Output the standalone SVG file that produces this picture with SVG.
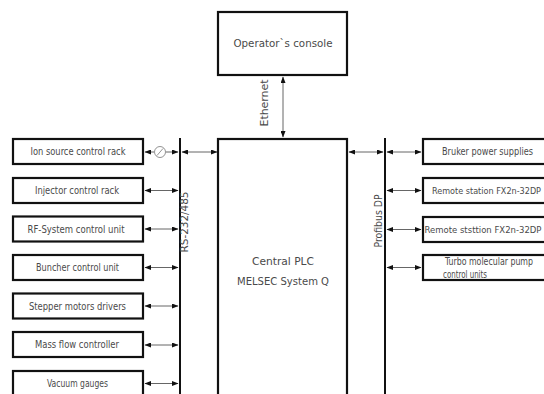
<svg xmlns="http://www.w3.org/2000/svg" width="544" height="394" viewBox="0 0 544 394">
<style>
.box{fill:#fff;stroke:#111;stroke-width:2.2}
.bus{stroke:#111;stroke-width:2}
.conn{stroke:#555;stroke-width:0.9;fill:none}
text{font-family:"DejaVu Sans Condensed","DejaVu Sans",sans-serif;font-size:9.8px;fill:#4a4a4a}
.c{text-anchor:middle}
.s{font-size:8.4px}
</style>
<defs>
<marker id="ah" markerUnits="userSpaceOnUse" markerWidth="7" markerHeight="5" refX="6" refY="2.5" orient="auto-start-reverse" viewBox="0 0 7 5">
<path d="M0,0 L6.5,2.5 L0,5 z" fill="#111"/>
</marker>
</defs>
<rect width="544" height="394" fill="#fff"/>
<g id="connectors">
<line class="bus" x1="180" y1="138" x2="180" y2="396"/>
<line class="bus" x1="385" y1="138" x2="385" y2="396"/>
<line class="conn" x1="283" y1="77" x2="283" y2="137" marker-start="url(#ah)" marker-end="url(#ah)"/>
<line class="conn" x1="145" y1="152" x2="154" y2="152" marker-start="url(#ah)"/>
<circle cx="160" cy="152" r="5.5" fill="#fff" stroke="#777" stroke-width="0.8"/>
<line x1="157" y1="155.5" x2="163" y2="148.5" stroke="#777" stroke-width="0.8"/>
<line class="conn" x1="166" y1="152" x2="178" y2="152" marker-end="url(#ah)"/>
<line class="conn" x1="182" y1="152" x2="217" y2="152" marker-start="url(#ah)" marker-end="url(#ah)"/>
<line class="conn" x1="145" y1="190.5" x2="178" y2="190.5" marker-start="url(#ah)" marker-end="url(#ah)"/>
<line class="conn" x1="145" y1="229" x2="178" y2="229" marker-start="url(#ah)" marker-end="url(#ah)"/>
<line class="conn" x1="145" y1="267.5" x2="178" y2="267.5" marker-start="url(#ah)" marker-end="url(#ah)"/>
<line class="conn" x1="145" y1="306" x2="178" y2="306" marker-start="url(#ah)" marker-end="url(#ah)"/>
<line class="conn" x1="145" y1="345" x2="178" y2="345" marker-start="url(#ah)" marker-end="url(#ah)"/>
<line class="conn" x1="145" y1="383.5" x2="178" y2="383.5" marker-start="url(#ah)" marker-end="url(#ah)"/>
<line class="conn" x1="349" y1="152" x2="383" y2="152" marker-start="url(#ah)" marker-end="url(#ah)"/>
<line class="conn" x1="387" y1="152" x2="421" y2="152" marker-start="url(#ah)" marker-end="url(#ah)"/>
<line class="conn" x1="387" y1="190.5" x2="421" y2="190.5" marker-start="url(#ah)" marker-end="url(#ah)"/>
<line class="conn" x1="387" y1="229.5" x2="421" y2="229.5" marker-start="url(#ah)" marker-end="url(#ah)"/>
<line class="conn" x1="387" y1="267.5" x2="421" y2="267.5" marker-start="url(#ah)" marker-end="url(#ah)"/>
<text class="c" transform="translate(188,222) rotate(-90)" textLength="61" lengthAdjust="spacingAndGlyphs">RS-232/485</text>
<text class="c" transform="translate(382,221) rotate(-90)" textLength="53" lengthAdjust="spacingAndGlyphs">Profibus  DP</text>
<text class="c" transform="translate(268,103) rotate(-90)" textLength="47" lengthAdjust="spacingAndGlyphs">Ethernet</text>
</g>
<g id="operator">
<rect class="box" x="218" y="12" width="129" height="63"/>
<text class="c" x="283" y="47" textLength="99" lengthAdjust="spacingAndGlyphs">Operator`s console</text>
</g>
<g id="plc">
<rect class="box" x="218" y="139" width="129" height="270"/>
<text class="c" x="283" y="265" textLength="62" lengthAdjust="spacingAndGlyphs">Central PLC</text>
<text class="c" x="283" y="285" textLength="92" lengthAdjust="spacingAndGlyphs">MELSEC System Q</text>
</g>
<g id="ion">
<rect class="box" x="13" y="139" width="130" height="25"/>
<text class="c" x="78" y="155" textLength="95" lengthAdjust="spacingAndGlyphs">Ion source control rack</text>
</g>
<g id="injector">
<rect class="box" x="13" y="178" width="130" height="25"/>
<text class="c" x="77" y="194" textLength="84" lengthAdjust="spacingAndGlyphs">Injector control rack</text>
</g>
<g id="rf">
<rect class="box" x="13" y="216.5" width="130" height="25"/>
<text class="c" x="76" y="232.5" textLength="97" lengthAdjust="spacingAndGlyphs">RF-System control unit</text>
</g>
<g id="buncher">
<rect class="box" x="13" y="255" width="130" height="25"/>
<text class="c" x="77.5" y="271" textLength="83" lengthAdjust="spacingAndGlyphs">Buncher control unit</text>
</g>
<g id="stepper">
<rect class="box" x="13" y="293.5" width="130" height="25"/>
<text class="c" x="77.5" y="309.5" textLength="97" lengthAdjust="spacingAndGlyphs">Stepper motors drivers</text>
</g>
<g id="massflow">
<rect class="box" x="13" y="332" width="130" height="25"/>
<text class="c" x="77" y="348" textLength="84" lengthAdjust="spacingAndGlyphs">Mass flow controller</text>
</g>
<g id="vacuum">
<rect class="box" x="13" y="371" width="130" height="27"/>
<text class="c" x="77.5" y="387" textLength="61" lengthAdjust="spacingAndGlyphs">Vacuum gauges</text>
</g>
<g id="bruker">
<rect class="box" x="423" y="139" width="130" height="25"/>
<text x="442" y="155" textLength="91" lengthAdjust="spacingAndGlyphs">Bruker power supplies</text>
</g>
<g id="remote1">
<rect class="box" x="423" y="178" width="130" height="25"/>
<text class="s" x="432" y="194" textLength="109" lengthAdjust="spacingAndGlyphs">Remote station FX2n-32DP</text>
</g>
<g id="remote2">
<rect class="box" x="423" y="217" width="130" height="25"/>
<text class="s" x="424.5" y="233" textLength="117" lengthAdjust="spacingAndGlyphs">Remote ststtion FX2n-32DP</text>
</g>
<g id="turbo">
<rect class="box" x="423" y="255" width="130" height="25"/>
<text x="445" y="265" textLength="88" lengthAdjust="spacingAndGlyphs">Turbo molecular pump</text>
<text x="443" y="278" textLength="44" lengthAdjust="spacingAndGlyphs">control units</text>
</g>
</svg>
